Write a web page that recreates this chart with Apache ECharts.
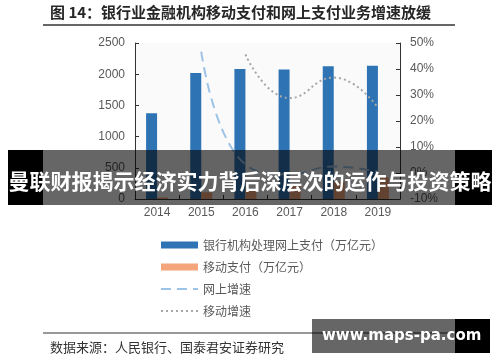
<!DOCTYPE html>
<html><head><meta charset="utf-8">
<script src="https://cdn.jsdelivr.net/npm/echarts@6/dist/echarts.min.js"></script>
<style>html,body{margin:0;padding:0;background:#fff}#c{width:500px;height:362px}</style>
</head><body><div id="c"></div>
<script>
const years = ['2014','2015','2016','2017','2018','2019'];
const onlinePay = [1376, 2018, 2085, 2075, 2126, 2135];
const mobilePay = [23, 108, 158, 203, 277, 347];
const onlineGrowth = [null, 46.67, 3.31, -0.47, 2.47, 0.40];
const mobileGrowth = [null, null, 45.59, 28.80, 36.69, 25.13];
const leftTicks = [0, 2500, 500];
const rightTicks = [-10, 50, 10];
const seriesNames = ['银行机构处理网上支付（万亿元）','移动支付（万亿元）','网上增速','移动增速'];
const titleText = '图 14：银行业金融机构移动支付和网上支付业务增速放缓';
const sourceText = '数据来源：人民银行、国泰君安证券研究';
const bannerText = '曼联财报揭示经济实力背后深层次的运作与投资策略';
const watermarkText = 'www.maps-pa.com';

const FONT = "'Liberation Sans','Noto Sans CJK SC',sans-serif";
const CJK = "'Noto Sans CJK SC',sans-serif";
const chart = echarts.init(document.getElementById('c'), null, {renderer:'canvas'});
chart.setOption({
  animation:false,
  backgroundColor:'#fff',
  textStyle:{fontFamily:FONT},
  grid:{left:135, right:100, top:43, bottom:163, show:true, backgroundColor:'#fafafa', borderWidth:0},
  legend:{
    orient:'vertical', left:155, top:233, itemWidth:37, itemHeight:7, itemGap:8,
    textStyle:{color:'#595959', fontSize:12, fontFamily:CJK, lineHeight:14},
    data:[
      {name:seriesNames[0], icon:'rect'},
      {name:seriesNames[1], icon:'rect'},
      {name:seriesNames[2], itemStyle:{opacity:0}, lineStyle:{color:'#9DC3E6', width:2, type:[10,6]}},
      {name:seriesNames[3], itemStyle:{opacity:0}, lineStyle:{color:'#A6A6A6', width:2, type:[2,3]}}
    ]
  },
  xAxis:{
    type:'category', data:years,
    axisLine:{lineStyle:{color:'#333', width:1}},
    axisTick:{show:true, inside:true, length:4, lineStyle:{color:'#333'}},
    axisLabel:{color:'#595959', fontSize:12, margin:8}
  },
  yAxis:[
    {type:'value', min:leftTicks[0], max:leftTicks[1], interval:leftTicks[2],
     splitLine:{show:false},
     axisLine:{show:true, lineStyle:{color:'#333'}},
     axisTick:{show:true, inside:true, length:4, lineStyle:{color:'#333'}},
     axisLabel:{color:'#595959', fontSize:12, margin:10, formatter:(v)=>String(v)}},
    {type:'value', min:rightTicks[0], max:rightTicks[1], interval:rightTicks[2], position:'right',
     splitLine:{show:false},
     axisLine:{show:true, lineStyle:{color:'#333'}},
     axisTick:{show:true, inside:true, length:4, lineStyle:{color:'#333'}},
     axisLabel:{color:'#595959', fontSize:12, margin:10, formatter:'{value}%'}}
  ],
  series:[
    {name:seriesNames[0], type:'bar', data:onlinePay, barWidth:11, barGap:'0%', itemStyle:{color:'#2E74B5'}},
    {name:seriesNames[1], type:'bar', data:mobilePay, barWidth:11, barGap:'0%', itemStyle:{color:'#F4A57C'}},
    {name:seriesNames[2], type:'line', yAxisIndex:1, data:onlineGrowth, smooth:true, symbol:'none', z:5,
     lineStyle:{color:'#9DC3E6', width:2, type:[10,6]}, itemStyle:{color:'#9DC3E6'}},
    {name:seriesNames[3], type:'line', yAxisIndex:1, data:mobileGrowth, smooth:true, symbol:'none', z:5,
     lineStyle:{color:'#A6A6A6', width:2, type:[2,3]}, itemStyle:{color:'#A6A6A6'}}
  ],
  graphic:[
    {type:'text', left:50, top:5, style:{text:titleText, fill:'#262626', font:"bold 15px "+CJK}},
    {type:'line', shape:{x1:43, y1:25, x2:455, y2:25}, style:{stroke:'#333', lineWidth:1.5}},
    {type:'line', shape:{x1:43, y1:333, x2:455, y2:333}, style:{stroke:'#333', lineWidth:1.2}},
    {type:'text', left:50, top:341, style:{text:sourceText, fill:'#333', font:"13px "+CJK}},
    {type:'rect', z:100, shape:{x:8, y:150, width:35, height:55}, style:{fill:'#000'}},
    {type:'rect', z:100, shape:{x:43, y:150, width:412, height:55}, style:{fill:'rgba(0,0,0,0.6)'}},
    {type:'rect', z:100, shape:{x:455, y:150, width:37, height:55}, style:{fill:'#000'}},
    {type:'text', z:101, x:250, y:181, style:{text:bannerText, fill:'#fff', font:"bold 21px "+CJK, align:'center', verticalAlign:'middle'}},
    {type:'rect', z:100, shape:{x:312, y:319, width:143, height:34}, style:{fill:'rgba(0,0,0,0.6)'}},
    {type:'rect', z:100, shape:{x:455, y:319, width:35, height:34}, style:{fill:'#000'}},
    {type:'text', z:101, x:322, y:336, style:{text:watermarkText, fill:'#fff', font:"bold 15px 'DejaVu Sans',sans-serif", align:'left', verticalAlign:'middle'}}
  ]
});
</script></body></html>
